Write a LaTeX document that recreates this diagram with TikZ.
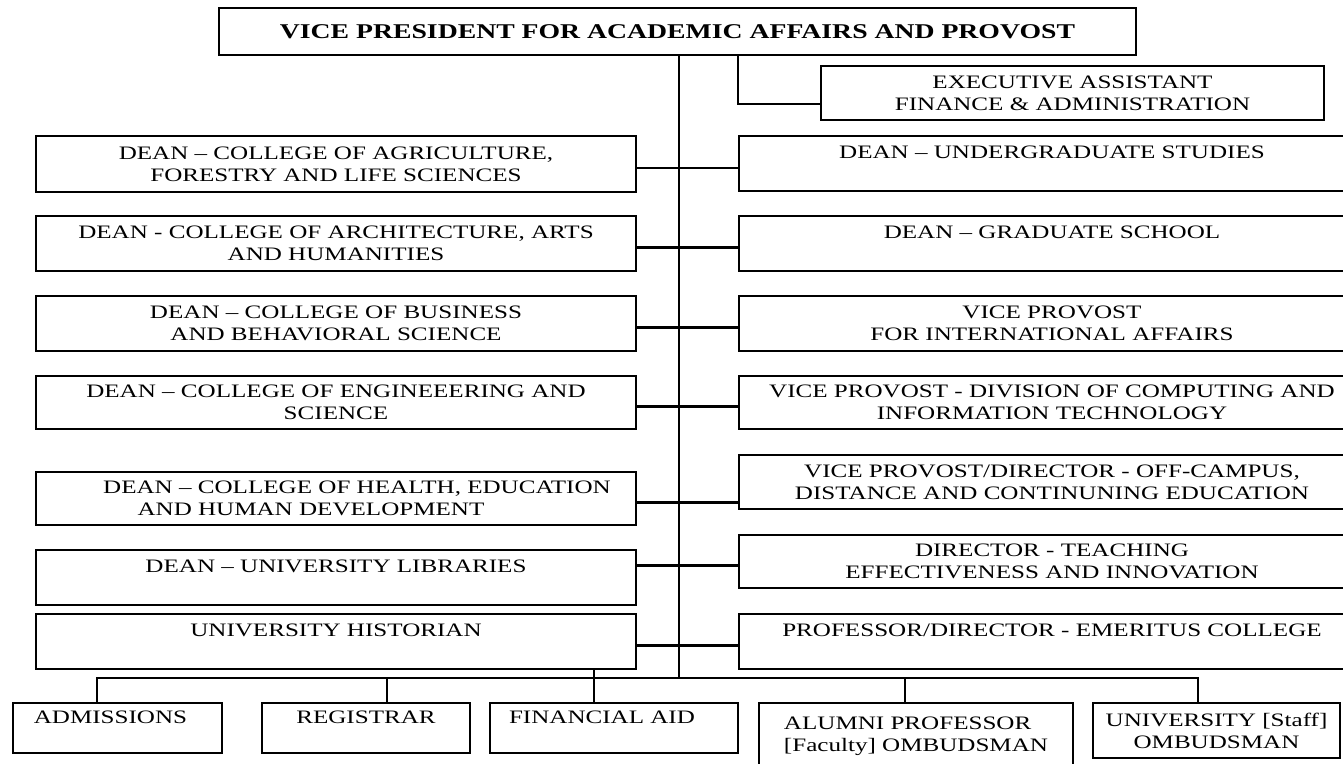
\documentclass[tikz,border=0pt]{standalone}
\usepackage{fontspec}
\setmainfont[FakeStretch=1.32]{Liberation Serif}

\begin{document}
\begin{tikzpicture}[
    x=1pt, y=-1pt,
    post/.style={draw, line width=2.7pt, align=center, inner sep=0pt,
        font=\fontsize{19}{22}\selectfont},
    leftpost/.style={post, minimum width=600pt},
    rightpost/.style={post, minimum width=626pt},
    lowpost/.style={post, minimum height=50pt},
    link/.style={line width=2.3pt},
    ]
    \useasboundingbox (0,0) rectangle (1343,763);

    \node[post, minimum width=917pt, minimum height=47pt,
        font=\fontsize{21}{24}\selectfont\bfseries] (vp) at (677.5,31.5)
        {VICE PRESIDENT FOR ACADEMIC AFFAIRS AND PROVOST};
    \node[post, minimum width=503pt, minimum height=54pt] (exec) at (1072.5,93)
        {EXECUTIVE ASSISTANT\\FINANCE \& ADMINISTRATION};

    % left column
    \node[leftpost, minimum height=56pt] (agric) at (336,164)
        {DEAN -- COLLEGE OF AGRICULTURE,\\FORESTRY AND LIFE SCIENCES};
    \node[leftpost, minimum height=55pt] (arch) at (336,243.5)
        {DEAN - COLLEGE OF ARCHITECTURE, ARTS\\AND HUMANITIES};
    \node[leftpost, minimum height=55pt] (bus) at (336,323.5)
        {DEAN -- COLLEGE OF BUSINESS\\AND BEHAVIORAL SCIENCE};
    \node[leftpost, minimum height=53pt] (eng) at (336,402.5)
        {DEAN -- COLLEGE OF ENGINEEERING AND\\SCIENCE};
    \node[leftpost, minimum height=53pt] (health) at (336,498.5)
        {\hspace*{42pt}DEAN -- COLLEGE OF HEALTH, EDUCATION\\AND HUMAN DEVELOPMENT\hspace*{50pt}};
    \node[leftpost, minimum height=55pt] (lib) at (336,577.5)
        {DEAN -- UNIVERSITY LIBRARIES\\~};
    \node[leftpost, minimum height=55pt] (hist) at (336,641.5)
        {UNIVERSITY HISTORIAN\\~};

    % right column
    \node[rightpost, minimum height=55pt] (ugrad) at (1052,163.5)
        {DEAN -- UNDERGRADUATE STUDIES\\~};
    \node[rightpost, minimum height=55pt] (grad) at (1052,243.5)
        {DEAN -- GRADUATE SCHOOL\\~};
    \node[rightpost, minimum height=55pt] (intl) at (1052,323.5)
        {VICE PROVOST\\FOR INTERNATIONAL AFFAIRS};
    \node[rightpost, minimum height=53pt] (cit) at (1052,402.5)
        {VICE PROVOST - DIVISION OF COMPUTING AND\\INFORMATION TECHNOLOGY};
    \node[rightpost, minimum height=54pt] (ocde) at (1052,482)
        {VICE PROVOST/DIRECTOR - OFF-CAMPUS,\\DISTANCE AND CONTINUNING EDUCATION};
    \node[rightpost, minimum height=53pt] (tei) at (1052,561.5)
        {DIRECTOR - TEACHING\\EFFECTIVENESS AND INNOVATION};
    \node[rightpost, minimum height=55pt] (emer) at (1052,641.5)
        {PROFESSOR/DIRECTOR - EMERITUS COLLEGE\\~};

    % bottom row
    \node[lowpost, minimum width=209pt] (adm) at (117.5,728) {ADMISSIONS\hspace*{14pt}\\~};
    \node[lowpost, minimum width=208pt] (reg) at (366,728) {REGISTRAR\\~};
    \node[lowpost, minimum width=248pt] (fin) at (614,728) {FINANCIAL AID\hspace*{24pt}\\~};
    \node[post, minimum width=314pt, minimum height=67pt, align=left] (alum) at (916,736.5)
        {ALUMNI PROFESSOR\\{[Faculty]} OMBUDSMAN};
    \node[post, minimum width=247pt, minimum height=55pt] (staff) at (1216.5,730.5)
        {UNIVERSITY [Staff]\\OMBUDSMAN};

    % trunk and branches
    \coordinate (hub) at (679,678);
    \draw[link] (vp.south -| hub) -- (hub);
    \coordinate (e) at ([yshift=-11pt]exec.west);
    \draw[link] (vp.south -| ugrad.west) |- (e);
    \foreach \l/\r in {agric/ugrad, arch/grad, bus/intl, eng/cit, health/ocde, hist/emer} {
        \coordinate (c-\l) at ([yshift=-4pt]\l.east);
        \draw[link] (c-\l) -- (c-\l -| \r.west);
    }
    \coordinate (c-tei) at ([yshift=-4pt]tei.west);
    \draw[link] (c-tei) -- (c-tei -| lib.east);

    \foreach \n/\dx in {adm/-20.5, reg/21, fin/-20, alum/-11, staff/-18.5}
        \coordinate (s-\n) at ([xshift=\dx pt]\n.north);
    \draw[link] (s-adm) |- (s-staff |- hub) -- (s-staff);
    \draw[link] (s-reg) -- (s-reg |- hub);
    \draw[link] (s-alum) -- (s-alum |- hub);
    \draw[link] (s-fin) -- (s-fin |- hist.south);
\end{tikzpicture}
\end{document}
